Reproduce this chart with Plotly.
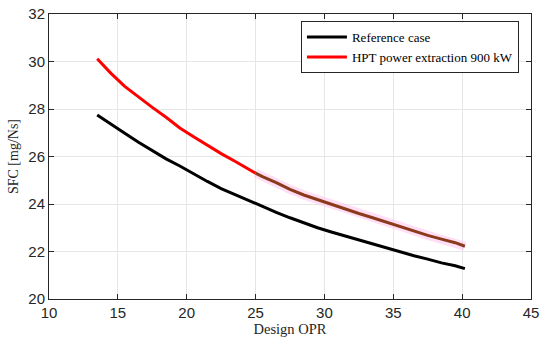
import plotly.graph_objects as go

x_ref = [13.5, 14.5, 15.5, 16.5, 17.5, 18.5, 19.5, 20.5, 21.5, 22.5, 23.5, 24.5, 25.0, 25.5, 26.5,
         27.5, 28.5, 29.5, 30.5, 31.5, 32.5, 33.5, 34.5, 35.5, 36.5, 37.5, 38.5, 39.5, 40.2]
sfc_ref = [27.75, 27.35, 26.98, 26.6, 26.25, 25.9, 25.6, 25.27, 24.95, 24.65, 24.4, 24.13, 24.0, 23.88, 23.65,
           23.42, 23.2, 23.0, 22.82, 22.65, 22.47, 22.32, 22.15, 21.98, 21.82, 21.68, 21.52, 21.4, 21.28]
sfc_hpt = [30.12, 29.5, 28.95, 28.5, 28.07, 27.65, 27.2, 26.83, 26.47, 26.12, 25.8, 25.47, 25.3, 25.15, 24.9,
           24.62, 24.38, 24.18, 23.98, 23.78, 23.6, 23.42, 23.23, 23.05, 22.87, 22.68, 22.52, 22.37, 22.22]

x_ticks = [10, 15, 20, 25, 30, 35, 40, 45]
y_ticks = [20, 22, 24, 26, 28, 30, 32]

split = 12  # index (x = 25) where the HPT curve changes tint in the original
serif = "Liberation Serif"
sans = "Liberation Sans"

fig = go.Figure()
fig.add_trace(go.Scatter(x=x_ref, y=sfc_ref, mode="lines", name="Reference case",
                         line=dict(color="black", width=3)))
fig.add_trace(go.Scatter(x=x_ref[split:], y=sfc_hpt[split:], mode="lines", showlegend=False,
                         hoverinfo="skip", line=dict(color="rgba(255,200,240,0.6)", width=9)))
fig.add_trace(go.Scatter(x=x_ref[:split + 1], y=sfc_hpt[:split + 1], mode="lines",
                         name="HPT power extraction 900 kW", line=dict(color="#ff0000", width=3)))
fig.add_trace(go.Scatter(x=x_ref[split:], y=sfc_hpt[split:], mode="lines", showlegend=False,
                         line=dict(color="#8b3a1c", width=3)))

axis_common = dict(showline=True, linecolor="#262626", linewidth=1, mirror="ticks",
                   ticks="inside", ticklen=5, tickcolor="#262626", automargin=False,
                   ticklabeloverflow="allow",
                   showgrid=True, gridcolor="#e6e6e6", gridwidth=1, zeroline=False,
                   tickfont=dict(family=sans, size=15, color="#262626"))

fig.update_xaxes(range=[10, 45], tickvals=x_ticks,
                 title=dict(text="Design OPR", font=dict(family=serif, size=14.5, color="#262626"),
                            standoff=2), **axis_common)
fig.update_yaxes(range=[20, 32], tickvals=y_ticks,
                 title=dict(text="SFC [mg/Ns]", font=dict(family=serif, size=14, color="#262626"),
                            standoff=6), **axis_common)

fig.update_layout(width=550, height=345, margin=dict(l=49, r=19, t=14, b=46),
                  plot_bgcolor="white", paper_bgcolor="white",
                  legend=dict(x=0.975, y=0.975, xanchor="right", yanchor="top",
                              bgcolor="white", bordercolor="#262626", borderwidth=1,
                              font=dict(family=serif, size=13, color="black"),
                              tracegroupgap=0, itemwidth=40))

# remove the default 8 px page margin so the figure fills the window exactly
fig.write_html("out.html", config={"displayModeBar": False},
               post_script="document.body.style.margin='0';")
